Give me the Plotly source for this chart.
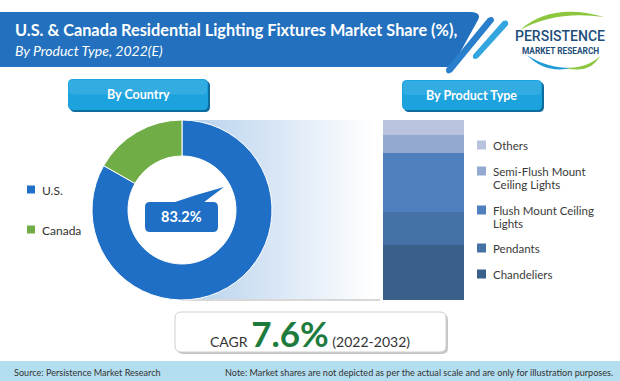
import plotly.graph_objects as go

W, H = 620, 381

# ---------------- data ----------------
countries = ["U.S.", "Canada"]
country_share = [83.2, 16.8]
country_colors = ["#1f6fc6", "#70ad47"]

product_types = ["Chandeliers", "Pendants", "Flush Mount Ceiling\nLights",
                 "Semi-Flush Mount\nCeiling Lights", "Others"]
product_share = [30.6, 18.3, 32.8, 10.0, 8.3]
product_colors = ["#3a5f8b", "#4471a6", "#4f80bd", "#94a9d1", "#b9c3de"]

title_text = "U.S. & Canada Residential Lighting Fixtures Market Share (%),"
subtitle_text = "By Product Type, 2022(E)"
left_header = "By Country"
right_header = "By Product Type"
cagr_value = "7.6%"
cagr_period = "(2022-2032)"
source_text = "Source: Persistence Market Research"
note_text = "Note: Market shares are not depicted as per the actual scale and are only for illustration purposes."

FONT = "Lato, 'Open Sans', sans-serif"


# ---------------- helpers ----------------
def X(x):
    return x / W


def Y(y):
    return 1 - y / H


def pth(*cmds):
    parts = []
    for c in cmds:
        if c[0] == "Z":
            parts.append("Z")
            continue
        nums = c[1:]
        coords = [f"{X(nums[i]):.5f},{Y(nums[i + 1]):.5f}" for i in range(0, len(nums), 2)]
        parts.append(c[0] + " ".join(coords))
    return " ".join(parts)


def rrect(x0, y0, x1, y1, r):
    return pth(("M", x0 + r, y0), ("L", x1 - r, y0), ("Q", x1, y0, x1, y0 + r),
               ("L", x1, y1 - r), ("Q", x1, y1, x1 - r, y1), ("L", x0 + r, y1),
               ("Q", x0, y1, x0, y1 - r), ("L", x0, y0 + r), ("Q", x0, y0, x0 + r, y0), ("Z",))


shapes = []
annotations = []


def add_path(p, fill, layer="above", line=None):
    shapes.append(dict(type="path", xref="paper", yref="paper", path=p, fillcolor=fill,
                       line=line or dict(width=0), layer=layer))


def add_rect(x0, y0, x1, y1, fill, layer="above"):
    shapes.append(dict(type="rect", xref="paper", yref="paper", x0=X(x0), x1=X(x1),
                       y0=Y(y1), y1=Y(y0), fillcolor=fill, line=dict(width=0), layer=layer))


def add_text(x, y, text, size=12, color="#333333", xanchor="left", yanchor="middle",
             weight="normal", style="normal", family=FONT):
    annotations.append(dict(x=X(x), y=Y(y), xref="paper", yref="paper", text=text,
                            showarrow=False, xanchor=xanchor, yanchor=yanchor,
                            font=dict(size=size, color=color, family=family,
                                      weight=weight, style=style)))


fig = go.Figure()

# ---------------- donut ----------------
fig.add_trace(go.Pie(
    labels=countries, values=country_share, hole=0.6, sort=False,
    direction="clockwise", rotation=0, textinfo="none", showlegend=False,
    marker=dict(colors=country_colors, line=dict(color="white", width=1)),
    domain=dict(x=[X(92), X(272)], y=[Y(300), Y(120)]),
    hoverinfo="label+percent",
))

# ---------------- stacked bar ----------------
for name, val, col in zip(product_types, product_share, product_colors):
    fig.add_trace(go.Bar(
        x=[0], y=[val], width=1, name=name.replace("\n", " "),
        marker=dict(color=col, line=dict(width=0)), showlegend=False,
    ))

# ---------------- background gradient panel ----------------
g0 = (181, 208, 236)
gx0, gx1 = 182, 376
n = 48
for i in range(n):
    t = i / (n - 1)
    c = tuple(int(round(g0[k] + (255 - g0[k]) * t)) for k in range(3))
    xa = gx0 + (gx1 - gx0) * i / n
    xb = gx0 + (gx1 - gx0) * (i + 1) / n + 0.6
    add_rect(xa, 120, xb, 299, f"rgb{c}", layer="below")
add_rect(182, 299, 380, 301, "rgba(190,190,190,0.6)", layer="below")
# white donut hole
shapes.append(dict(type="circle", xref="paper", yref="paper", x0=X(127), x1=X(237),
                   y0=Y(265), y1=Y(155), fillcolor="white", line=dict(width=0), layer="below"))

# ---------------- title banner ----------------
add_path(pth(("M", 0, 12), ("L", 470, 12), ("Q", 482, 12, 478, 20), ("L", 452, 67),
             ("L", 0, 67), ("Z",)), "#2371be", layer="below")
# decorative stripes
add_path(pth(("M", 488, 18), ("Q", 494, 15, 494, 21), ("L", 452, 72), ("Q", 446, 76, 446, 69),
             ("Z",)), "#2a7fcc", layer="below")
add_path(pth(("M", 503, 21), ("Q", 509, 19, 508, 25), ("L", 478, 58), ("Q", 472, 61, 473, 55),
             ("Z",)), "#33a6df", layer="below")
add_text(13, 29, title_text, size=16.3, color="white", weight="bold")
add_text(13, 50, subtitle_text, size=14, color="white", style="italic")

# ---------------- logo ----------------
add_path(pth(("M", 520, 30), ("Q", 552, 2, 604, 17), ("Q", 556, 10, 520, 30), ("Z",)), "#8cc63f")
add_path(pth(("M", 527, 55), ("Q", 545, 74, 572, 68), ("Q", 546, 68, 527, 55), ("Z",)), "#1f9bd7")
add_path(pth(("M", 566, 68), ("Q", 588, 68, 600, 56), ("Q", 590, 74, 566, 68), ("Z",)), "#8cc63f")
add_text(560, 36, "PERSISTENCE", size=14, color="#1d4e79", xanchor="center", weight=500,
         family="Roboto, sans-serif")
add_text(560, 51, "MARKET RESEARCH", size=8.3, color="#1d4e79", xanchor="center", weight="bold",
         family="Roboto, sans-serif")

# ---------------- section buttons ----------------
for (bx0, by0, bx1, by1, label) in [(68, 79, 208, 110, left_header), (402, 80, 542, 110, right_header)]:
    add_path(rrect(bx0 + 2, by0 + 2, bx1 + 2, by1 + 2, 5), "#0f6d9e", layer="below")
    add_path(rrect(bx0, by0, bx1, by1, 5), "#1ca3de", layer="below")
    add_path(rrect(bx0 + 1, by0 + 1, bx1 - 1, (by0 + by1) / 2, 4), "rgba(255,255,255,0.10)", layer="below")
    add_text((bx0 + bx1) / 2, (by0 + by1) / 2, label, size=12.5, color="white",
             xanchor="center", weight="bold")

# ---------------- donut callout ----------------
add_path(pth(("M", 172, 203), ("Q", 198, 194, 224, 187), ("Q", 212, 196, 203, 203), ("Z",)), country_colors[0])
add_path(rrect(145, 202, 218, 232, 5), country_colors[0])
add_text(181.5, 217, f"{country_share[0]}%", size=14.5, color="white", xanchor="center", weight="bold")

# ---------------- left legend ----------------
for i, (lab, col) in enumerate(zip(countries, country_colors)):
    cy = 190 + 40 * i
    add_rect(27, cy - 4.5, 35, cy + 3.5, col)
    add_text(40, cy, lab, size=12, color="#333333")

# ---------------- right legend ----------------
legend_rows = [(145, 4), (171, 3), (210, 2), (248, 1), (274, 0)]
for cy, idx in legend_rows:
    add_rect(477, cy - 4.5, 486, cy + 4.5, product_colors[idx])
    for j, line in enumerate(product_types[idx].split("\n")):
        add_text(491, cy + 13 * j, line, size=11.5, color="#3a3a3a")

# ---------------- CAGR box ----------------
add_path(rrect(177, 314, 448, 354, 6), "rgba(150,150,150,0.55)", layer="below")
add_path(rrect(175, 312, 446, 352, 6), "white", layer="below",
         line=dict(color="#d0d0d0", width=1))
add_text(310, 333,
         f"CAGR <span style='font-size:35px;color:#1e7b3e;font-weight:bold'>{cagr_value}</span> {cagr_period}",
         size=14, color="#333333", xanchor="center")

# ---------------- footer ----------------
add_rect(0, 361, 620, 381, "#b3def0", layer="below")
add_text(12, 372, source_text, size=9.1, color="#333333")
add_text(615, 372, note_text, size=9.1, color="#333333", xanchor="right")

fig.update_layout(
    width=W, height=H, margin=dict(l=0, r=0, t=0, b=0),
    paper_bgcolor="white", plot_bgcolor="rgba(0,0,0,0)",
    barmode="stack", bargap=0,
    xaxis=dict(domain=[X(383), X(464)], range=[-0.5, 0.5], visible=False, fixedrange=True),
    yaxis=dict(domain=[Y(300), Y(120)], range=[0, 100], visible=False, fixedrange=True),
    shapes=shapes, annotations=annotations, font=dict(family=FONT),
)

fig.write_html("out.html", config=dict(displayModeBar=False),
               post_script="document.body.style.margin='0';document.body.style.overflow='hidden';")
